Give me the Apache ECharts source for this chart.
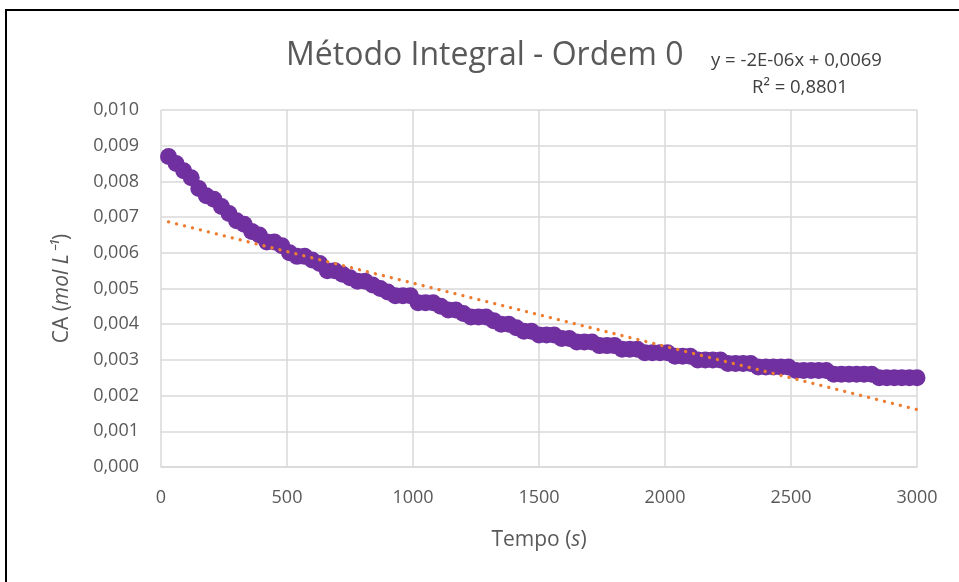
<!DOCTYPE html>
<html>
<head>
<meta charset="utf-8">
<script src="https://cdn.jsdelivr.net/npm/echarts@6/dist/echarts.min.js"></script>
<style>html,body{margin:0;padding:0;background:#fff}#c{width:959px;height:582px}</style>
</head>
<body>
<div id="c"></div>
<script>
// Time (s)
const tempo = [30,60,90,120,150,180,210,240,270,300,330,360,390,420,450,480,510,540,570,600,
630,660,690,720,750,780,810,840,870,900,930,960,990,1020,1050,1080,1110,1140,1170,1200,
1230,1260,1290,1320,1350,1380,1410,1440,1470,1500,1530,1560,1590,1620,1650,1680,1710,1740,1770,1800,
1830,1860,1890,1920,1950,1980,2010,2040,2070,2100,2130,2160,2190,2220,2250,2280,2310,2340,2370,2400,
2430,2460,2490,2520,2550,2580,2610,2640,2670,2700,2730,2760,2790,2820,2850,2880,2910,2940,2970,3000];
// CA (mol/L)
const ca = [0.0087,0.0085,0.0083,0.0081,0.0078,0.0076,0.0075,0.0073,0.0071,0.0069,
0.0068,0.0066,0.0065,0.0063,0.0063,0.0062,0.0060,0.0059,0.0059,0.0058,
0.0057,0.0055,0.0055,0.0054,0.0053,0.0052,0.0052,0.0051,0.0050,0.0049,
0.0048,0.0048,0.0048,0.0046,0.0046,0.0046,0.0045,0.0044,0.0044,0.0043,
0.0042,0.0042,0.0042,0.0041,0.0040,0.0040,0.0039,0.0038,0.0038,0.0037,
0.0037,0.0037,0.0036,0.0036,0.0035,0.0035,0.0035,0.0034,0.0034,0.0034,
0.0033,0.0033,0.0033,0.0032,0.0032,0.0032,0.0032,0.0031,0.0031,0.0031,
0.0030,0.0030,0.0030,0.0030,0.0029,0.0029,0.0029,0.0029,0.0028,0.0028,
0.0028,0.0028,0.0028,0.0027,0.0027,0.0027,0.0027,0.0027,0.0026,0.0026,
0.0026,0.0026,0.0026,0.0026,0.0025,0.0025,0.0025,0.0025,0.0025,0.0025];
// Linear trendline
const trendSlope = -1.77e-6;
const trendIntercept = 0.00692;
const titleText = 'Método Integral - Ordem 0';
const eqText = 'y = -2E-06x + 0,0069';
const r2Text = 'R² = 0,8801';

const pts = tempo.map((t, i) => [t, ca[i]]);
const trend = [[tempo[0], trendIntercept + trendSlope * tempo[0]],
               [tempo[tempo.length - 1], trendIntercept + trendSlope * tempo[tempo.length - 1]]];

const chart = echarts.init(document.getElementById('c'), null, {renderer: 'canvas'});
const font = "Open Sans";
const nameRich = {
  n: {fontSize: 21, color: '#595959', fontFamily: font},
  i: {fontSize: 21, color: '#595959', fontStyle: 'italic', fontFamily: font}
};
chart.setOption({
  animation: false,
  backgroundColor: '#fff',
  grid: {left: 161, right: 42, top: 110, bottom: 115, containLabel: false},
  xAxis: {
    type: 'value', min: 0, max: 3000, interval: 500,
    name: '{n|Tempo (}{i|s}{n|)}', nameLocation: 'middle', nameGap: 63,
    nameTextStyle: {rich: nameRich},
    axisLine: {show: true, lineStyle: {color: '#D9D9D9', width: 1.5}},
    axisTick: {show: false},
    axisLabel: {color: '#595959', fontSize: 18, fontFamily: font, margin: 22,
      formatter: v => String(v)},
    splitLine: {show: true, lineStyle: {color: '#D9D9D9', width: 1.5}}
  },
  yAxis: {
    type: 'value', min: 0, max: 0.01, interval: 0.001,
    name: '{n|CA (}{i|mol L⁻¹}{n|)}', nameLocation: 'middle', nameGap: 88, nameRotate: 90,
    nameTextStyle: {rich: nameRich},
    axisLine: {show: false},
    axisTick: {show: false},
    axisLabel: {color: '#595959', fontSize: 18, fontFamily: font, margin: 22,
      formatter: v => v.toFixed(3).replace('.', ',')},
    splitLine: {show: true, lineStyle: {color: '#D9D9D9', width: 1.5}}
  },
  series: [
    {type: 'scatter', data: pts, symbol: 'circle', symbolSize: 17,
     itemStyle: {color: '#7030A0', opacity: 1}, z: 2},
    {type: 'line', data: trend, symbol: 'none', z: 3,
     lineStyle: {color: '#ED7D31', width: 3.3, type: [0.1, 8.1], cap: 'round'}}
  ],
  graphic: [
    {type: 'rect', shape: {x: 6, y: 10, width: 1200, height: 1200},
     style: {fill: null, stroke: '#000', lineWidth: 2}, silent: true, z: 100},
    {type: 'text', left: 286, top: 40,
     style: {text: titleText, fontSize: 32, fontFamily: font, fill: '#595959'}},
    {type: 'text', left: 711, top: 51,
     style: {text: eqText, fontSize: 18.5, fontFamily: font, fill: '#404040'}},
    {type: 'text', left: 752, top: 78,
     style: {text: r2Text, fontSize: 18.5, fontFamily: font, fill: '#404040'}}
  ]
});
</script>
</body>
</html>
